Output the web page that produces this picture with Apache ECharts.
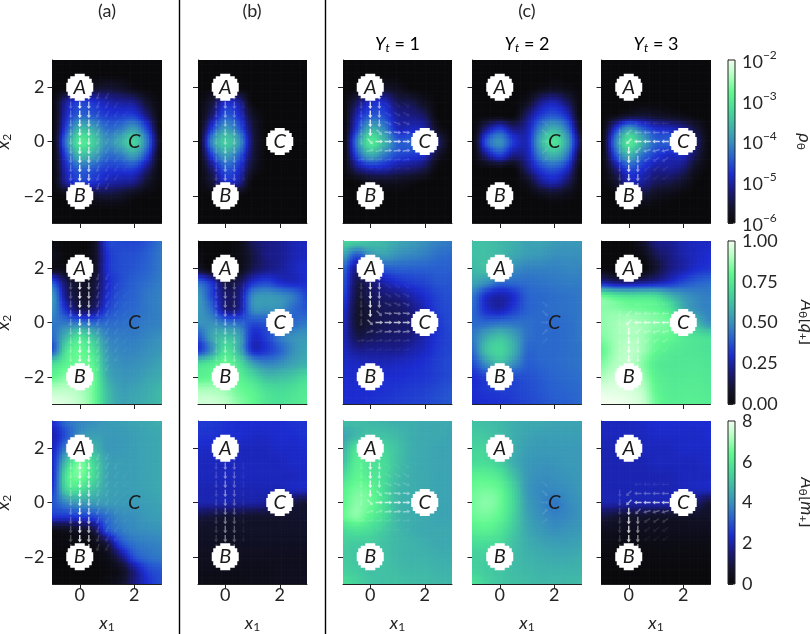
<!DOCTYPE html>
<html><head><meta charset="utf-8">
<style>html,body{margin:0;padding:0;background:#fff}#c{width:810px;height:634px}</style>
<script src="https://cdn.jsdelivr.net/npm/echarts@6/dist/echarts.min.js"></script>
</head><body><div id="c"></div>
<script>
const nodeX=[-1,-.5,0,.5,1,1.5,2,2.5,3];
const nodeY=[3,2.5,2,1.5,1,.5,0,-.5,-1,-1.5,-2,-2.5,-3];
// log10 rho
const rhoA=[[-6,-6,-6,-6,-6,-6,-6,-6,-6],[-6,-6,-6,-6,-6,-6,-6,-6,-6],[-6,-6,-5.8,-5.7,-5.6,-5.7,-5.9,-6,-6],[-6,-5.1,-4.7,-4.8,-5,-5.1,-5.2,-5.7,-6],[-6,-4.9,-4.4,-4.5,-4.7,-4.7,-4.7,-5.3,-6],[-6,-4.6,-3.6,-3.8,-4.3,-4.2,-3.9,-4.7,-6],[-6,-4.2,-3.05,-3.35,-4,-3.7,-3.3,-4.3,-5.9],[-6,-4.6,-3.6,-3.8,-4.3,-4.2,-3.9,-4.7,-6],[-6,-4.9,-4.4,-4.5,-4.7,-4.7,-4.7,-5.3,-6],[-6,-5.1,-4.7,-4.8,-5,-5.1,-5.2,-5.7,-6],[-6,-6,-5.8,-5.7,-5.6,-5.7,-5.9,-6,-6],[-6,-6,-6,-6,-6,-6,-6,-6,-6],[-6,-6,-6,-6,-6,-6,-6,-6,-6]];
const rhoB=[[-6,-6,-6,-6,-6,-6,-6,-6,-6],[-6,-6,-6,-6,-6,-6,-6,-6,-6],[-6,-6,-6,-6,-6,-6,-6,-6,-6],[-6,-5.6,-4.9,-5.1,-6,-6,-6,-6,-6],[-6,-5.3,-4.5,-4.8,-5.7,-6,-6,-6,-6],[-6,-4.7,-3.9,-4.4,-5.5,-6,-6,-6,-6],[-6,-4.1,-3.4,-3.9,-5.4,-6,-6,-6,-6],[-6,-4.7,-3.9,-4.4,-5.5,-6,-6,-6,-6],[-6,-5.3,-4.5,-4.8,-5.7,-6,-6,-6,-6],[-6,-5.6,-4.9,-5.1,-6,-6,-6,-6,-6],[-6,-6,-6,-6,-6,-6,-6,-6,-6],[-6,-6,-6,-6,-6,-6,-6,-6,-6],[-6,-6,-6,-6,-6,-6,-6,-6,-6]];
const rhoC1=[[-6,-6,-6,-6,-6,-6,-6,-6,-6],[-6,-6,-6,-6,-6,-6,-6,-6,-6],[-6,-6,-5.8,-5.7,-5.8,-6,-6,-6,-6],[-6,-5.4,-4.9,-4.9,-5.4,-5.5,-5.8,-6,-6],[-6,-5,-4.5,-4.6,-5.1,-5.2,-5.4,-6,-6],[-6,-4.7,-3.7,-4.1,-4.9,-4.9,-5,-5.8,-6],[-6,-4.2,-3.05,-3.6,-4.4,-4.4,-4.5,-5.3,-6],[-6,-4.6,-3.8,-4.2,-4.6,-4.7,-4.9,-5.7,-6],[-6,-5.3,-5,-5,-5.2,-5.3,-5.5,-6,-6],[-6,-6,-5.8,-5.8,-5.8,-5.9,-6,-6,-6],[-6,-6,-6,-6,-6,-6,-6,-6,-6],[-6,-6,-6,-6,-6,-6,-6,-6,-6],[-6,-6,-6,-6,-6,-6,-6,-6,-6]];
const rhoC2=[[-6,-6,-6,-6,-6,-6,-6,-6,-6],[-6,-6,-6,-6,-6,-6,-6,-6,-6],[-6,-6,-6,-6,-6,-5.9,-5.8,-5.9,-6],[-6,-6,-6,-6,-5.8,-5.2,-5,-5.4,-6],[-6,-6,-6,-6,-5.3,-4.7,-4.5,-4.9,-6],[-6,-5.2,-4.7,-5.2,-5,-4.1,-3.7,-4.3,-5.8],[-6,-4.5,-4,-4.7,-4.9,-3.7,-3.1,-3.9,-5.5],[-6,-5.2,-4.7,-5.2,-5,-4.1,-3.7,-4.3,-5.8],[-6,-6,-6,-6,-5.3,-4.7,-4.5,-4.9,-6],[-6,-6,-6,-6,-5.8,-5.2,-5,-5.4,-6],[-6,-6,-6,-6,-6,-5.9,-5.8,-5.9,-6],[-6,-6,-6,-6,-6,-6,-6,-6,-6],[-6,-6,-6,-6,-6,-6,-6,-6,-6]];
const rhoC3=[[-6,-6,-6,-6,-6,-6,-6,-6,-6],[-6,-6,-6,-6,-6,-6,-6,-6,-6],[-6,-6,-6,-6,-6,-6,-6,-6,-6],[-6,-6,-6,-6,-6,-6,-6,-6,-6],[-6,-5.9,-5.7,-5.6,-5.7,-5.8,-5.9,-6,-6],[-6,-4.8,-3.9,-4.4,-4.8,-4.9,-5.1,-5.6,-6],[-6,-4.2,-3.05,-3.7,-4.4,-4.4,-4.5,-5.3,-6],[-6,-4.6,-3.7,-4.3,-4.7,-4.9,-4.9,-5.5,-6],[-6,-5.3,-4.6,-4.8,-5.1,-5.1,-5.3,-5.8,-6],[-6,-5.7,-5,-5.1,-5.4,-5.5,-5.7,-6,-6],[-6,-6,-5.6,-5.6,-5.8,-5.9,-6,-6,-6],[-6,-6,-6,-6,-6,-6,-6,-6,-6],[-6,-6,-6,-6,-6,-6,-6,-6,-6]];
// A[q+]
const qA=[[.02,0,0,.05,.33,.35,.35,.38,.44],[.05,0,0,.05,.3,.36,.37,.4,.45],[.05,.03,0,.05,.3,.36,.38,.41,.45],[.38,.15,.08,.1,.28,.36,.4,.43,.46],[.52,.2,.1,.12,.3,.38,.41,.45,.47],[.5,.3,.15,.18,.34,.4,.42,.45,.47],[.45,.45,.45,.42,.42,.43,.44,.46,.47],[.42,.6,.72,.62,.48,.46,.46,.48,.5],[.38,.72,.8,.72,.52,.48,.48,.5,.52],[.7,.78,.82,.78,.55,.5,.5,.52,.55],[.8,.85,.9,.82,.58,.52,.52,.55,.57],[.92,.92,.9,.82,.62,.54,.55,.57,.6],[.98,.96,.92,.82,.63,.55,.56,.58,.6]];
const qB=[[0,0,0,.03,.15,.2,.22,.26,.28],[.02,0,0,.03,.12,.2,.22,.26,.28],[.08,0,0,.03,.14,.2,.23,.27,.3],[.42,.3,.12,.15,.3,.35,.3,.28,.3],[.52,.35,.18,.2,.48,.52,.5,.45,.35],[.52,.42,.2,.22,.48,.5,.5,.42,.38],[.5,.5,.45,.42,.36,.38,.4,.42,.45],[.38,.55,.62,.55,.3,.34,.45,.5,.52],[.32,.5,.72,.58,.3,.32,.4,.5,.55],[.7,.75,.8,.72,.55,.48,.5,.55,.58],[.78,.8,.85,.78,.7,.62,.62,.65,.7],[.9,.9,.88,.82,.78,.72,.7,.72,.75],[.95,.95,.92,.85,.8,.74,.72,.74,.76]];
const qC1=[[.68,.66,.62,.6,.56,.53,.5,.47,.45],[.55,.38,.5,.54,.5,.48,.46,.43,.42],[.42,.2,.3,.38,.4,.4,.4,.4,.4],[.38,.14,.18,.25,.3,.33,.35,.38,.38],[.35,.12,.15,.18,.2,.25,.3,.35,.37],[.3,.1,.12,.15,.16,.2,.27,.34,.36],[.28,.1,.12,.15,.16,.18,.25,.32,.36],[.27,.14,.15,.17,.18,.2,.26,.32,.35],[.28,.22,.22,.22,.22,.25,.28,.33,.35],[.29,.28,.27,.27,.28,.29,.31,.34,.36],[.3,.29,.29,.3,.3,.31,.32,.34,.36],[.3,.3,.3,.31,.32,.33,.34,.36,.38],[.3,.3,.31,.32,.33,.34,.35,.37,.38]];
const qC2=[[.62,.62,.6,.58,.55,.55,.53,.52,.52],[.62,.62,.6,.56,.53,.52,.5,.5,.5],[.6,.62,.58,.5,.47,.47,.47,.48,.48],[.55,.5,.42,.42,.43,.44,.45,.46,.46],[.45,.3,.25,.3,.4,.42,.43,.44,.45],[.42,.3,.26,.33,.4,.42,.43,.44,.45],[.42,.42,.44,.44,.43,.42,.42,.43,.45],[.45,.56,.62,.55,.44,.42,.42,.43,.45],[.42,.62,.68,.58,.42,.42,.42,.43,.44],[.36,.5,.6,.5,.4,.41,.42,.43,.44],[.3,.34,.36,.36,.37,.39,.41,.42,.43],[.3,.32,.33,.34,.36,.38,.4,.41,.42],[.29,.3,.31,.33,.35,.37,.39,.4,.42]];
const qC3=[[0,0,0,.08,.2,.22,.26,.28,.28],[0,0,0,.03,.14,.2,.25,.28,.3],[.02,0,0,0,.1,.2,.25,.3,.32],[.25,.2,.2,.22,.25,.3,.36,.4,.42],[.8,.75,.72,.72,.7,.6,.52,.48,.46],[.85,.85,.83,.82,.8,.74,.58,.5,.47],[.86,.88,.9,.88,.85,.82,.72,.6,.5],[.84,.88,.9,.88,.82,.8,.75,.72,.7],[.8,.88,.92,.88,.8,.76,.74,.73,.72],[.84,.9,.92,.85,.76,.74,.74,.74,.73],[.9,.94,.94,.88,.78,.75,.75,.75,.74],[.97,.97,.96,.92,.8,.76,.76,.76,.75],[1,1,.98,.94,.82,.77,.77,.77,.76]];
// A[m+]
const mA=[[2.4,3.4,3.8,4,4.2,4.3,4.4,4.5,4.6],[2,3,4,4.3,4.2,4.2,4.3,4.4,4.5],[2.2,3.8,5,4.8,4.2,4.2,4.3,4.4,4.5],[2.3,5,6.6,5.5,4.4,4.3,4.3,4.4,4.5],[2.3,5.8,6.6,5.6,4.4,4.3,4.3,4.4,4.5],[2.6,5.4,5.7,5,4.4,4.3,4.3,4.4,4.5],[3,3.8,4.2,4.2,4.2,4.2,4.2,4.3,4.4],[2.5,2.5,2.6,2.8,3.4,3.9,4,4.2,4.3],[.3,.4,.6,1,2.9,3.6,3.9,4,4.1],[.1,.1,.1,.2,1,2.8,3.5,3.7,3.8],[0,0,0,.1,.3,1.4,2.9,3.4,3.6],[0,0,0,0,.1,.4,1.6,2.7,3],[0,0,0,0,.2,.6,1.6,2.4,2.9]];
const mB=[[2.6,2.6,2.5,2.4,2.4,2.4,2.4,2.5,2.5],[2.5,2.5,2.4,2.4,2.3,2.3,2.4,2.4,2.5],[2.3,2.3,2.3,2.2,2.2,2.2,2.3,2.3,2.4],[2.2,2.2,2.2,2.2,2.2,2.2,2.2,2.3,2.3],[2.2,2.2,2.2,2.2,2.2,2.2,2.2,2.2,2.3],[2.1,2.1,2.1,2.1,2.1,2.1,2.1,2.2,2.2],[2,2,2,1.9,1.9,1.8,1.6,1,.8],[1,.9,.8,.8,.7,.7,.7,.7,.7],[.6,.6,.6,.6,.6,.6,.6,.6,.6],[.5,.5,.5,.5,.5,.5,.5,.5,.5],[.4,.4,.4,.4,.4,.4,.4,.4,.4],[.3,.3,.3,.3,.3,.3,.4,.4,.4],[.2,.2,.2,.2,.3,.3,.4,.4,.5]];
const mC1=[[4.9,4.9,4.8,4.7,4.6,4.6,4.5,4.5,4.5],[4.4,4.8,5,5,4.8,4.6,4.5,4.5,4.4],[4.7,5.8,5.4,5.4,5,4.6,4.5,4.4,4.4],[5,6.1,5.8,5.6,5,4.6,4.5,4.4,4.4],[5.6,6.3,6,5.6,4.9,4.6,4.5,4.4,4.4],[6.2,6.6,6.4,5.6,4.8,4.6,4.5,4.4,4.4],[6.3,6.8,6.5,5.7,4.8,4.6,4.4,4.4,4.4],[6.4,6.8,6.2,5.6,4.8,4.6,4.5,4.4,4.4],[5.6,5.8,5.6,5.2,4.8,4.6,4.5,4.5,4.5],[5.3,5.2,5.2,5,4.8,4.7,4.6,4.5,4.5],[5.2,5.1,5,5,4.8,4.7,4.7,4.6,4.6],[5.3,5.2,5,5,4.9,4.8,4.8,4.7,4.7],[5.7,5.4,5.1,5,5,4.9,4.9,4.8,4.8]];
const mC2=[[5,4.9,4.8,4.6,4.5,4.5,4.4,4.4,4.4],[5.2,5.1,4.9,4.6,4.4,4.3,4.3,4.3,4.3],[5.4,5.4,5.1,4.6,4.3,4.2,4.2,4.2,4.2],[5.6,5.6,5.3,4.6,4.2,4.1,4.1,4.2,4.2],[6.2,6.2,5.9,5,4.2,4,4,4.1,4.2],[6.5,6.6,6.4,5.4,4.2,3.9,3.9,4,4.2],[6.6,6.8,6.5,5.5,4.3,3.9,3.6,3.9,4.1],[6.5,6.6,6.3,5.4,4.4,4,3.8,3.9,4.1],[6.1,6.2,5.9,5.2,4.5,4.2,4,4.1,4.2],[5.6,5.6,5.5,5,4.6,4.4,4.3,4.3,4.4],[5.3,5.3,5.2,4.9,4.7,4.6,4.5,4.5,4.6],[5.4,5.2,5.1,4.9,4.8,4.7,4.7,4.7,4.7],[5.8,5.4,5.1,5,4.9,4.8,4.8,4.8,4.9]];
const mC3=[[2.2,2.2,2.2,2.3,2.4,2.4,2.4,2.4,2.4],[2.2,2.2,2.2,2.2,2.3,2.3,2.3,2.3,2.4],[2.1,2.1,2.1,2.2,2.2,2.2,2.3,2.3,2.3],[2.1,2.1,2.1,2.1,2.2,2.2,2.2,2.2,2.3],[2.1,2.1,2.1,2.1,2.1,2.1,2.2,2.2,2.2],[2.1,2.1,2.1,2.1,2.1,2.1,2.2,2.2,2.2],[2,2,2,2,2,2,1.9,1.4,.8],[1,.8,.7,.7,.6,.6,.6,.6,.6],[.4,.4,.4,.4,.4,.4,.4,.4,.4],[.2,.2,.2,.2,.2,.2,.2,.2,.2],[.1,.1,.1,.1,.1,.1,.1,.1,.1],[.05,.05,.05,.05,.05,.05,.05,.05,.05],[0,0,0,0,0,0,0,0,0]];
// Quiver runs on the third-unit lattice: x from, x to, x2 from, x2 to (in thirds), dx, dy, alpha
const arrowsA=[[0,0,-5,5,0,-1,.9],[1,1,-5,5,0,-1,.7],[-1,-1,-5,5,0,-1,.25],[2,2,-5,5,-.3,-1,.16],[3,3,-5,5,-.5,-1,.1],[4,4,-4,4,-.6,-1,.07],[5,5,-3,3,-.8,-1,.04]];
const arrowsB=[[0,0,-5,5,0,-1,.45],[1,1,-5,5,0,-1,.3],[-1,-1,-5,5,0,-1,.16],[2,2,-4,4,0,-1,.06]];
const arrowsC1=[[0,0,1,5,0,-1,.85],[1,1,2,5,0,-1,.55],[-1,-1,0,5,0,-1,.16],[0,0,0,0,.7,-.7,.5],[1,1,1,1,.7,-.7,.4],[1,4,0,0,1,0,.7],[2,4,1,1,1,-.1,.42],[2,4,-1,-1,1,.1,.42],[0,1,-1,-1,1,.3,.25],[2,4,2,2,1,-.4,.16],[2,4,3,3,1,-.6,.1],[2,4,4,4,1,-.7,.05],[-1,4,-2,-2,1,.2,.1],[0,4,-3,-3,1,.2,.04]];
const arrowsC2=[[5,5,1,1,.7,-.7,.12],[5,5,-1,-1,.7,.7,.12],[5,5,0,0,1,0,.1],[5,5,2,2,.7,-.7,.07],[5,5,-2,-2,.7,.7,.07]];
const arrowsC3=[[0,0,-5,-1,0,-1,.8],[1,1,-5,-2,0,-1,.5],[-1,-1,-5,1,0,-1,.16],[0,0,0,0,-.7,-.7,.6],[0,0,1,1,-.7,-.7,.25],[1,1,-1,-1,-.7,-.7,.4],[1,4,0,0,-1,0,.7],[1,4,1,1,-1,0,.28],[2,4,-1,-1,-1,-.3,.32],[2,4,-2,-2,-1,-.7,.16],[2,4,-3,-3,-1,-.8,.08],[2,4,-4,-4,-1,-.8,.05],[1,4,2,2,-1,0,.08]];
const labelNames=['A','B','C'];
const labelX=[0,0,2];
const labelY=[2,-2,0];
const circledC=[false,true,true,false,true]; // whether C is observed in each column
const titles=['(a)','(b)','(c)'];
const subTitles=['1','2','3'];
const xTicks=[0,2];
const yTicks=[-2,0,2];
const fieldGrid=[[rhoA,rhoB,rhoC1,rhoC2,rhoC3],[qA,qB,qC1,qC2,qC3],[mA,mB,mC1,mC2,mC3]];
const arrowSets=[arrowsA,arrowsB,arrowsC1,arrowsC2,arrowsC3];
const rangeMin=[-6,0,0], rangeMax=[-2,1,8], rangeStep=[1,.25,2];

// --- layout and style ---
const FONT='Lato';
const TXT='#262626';
const TICK=18;
const colLeft=[52.5,198,343,472.5,601.5], colW=109;
const rowTop=[60,241,421], rowH=163;
const cbLeft=728, cbW=7;
const cmap=[[0,[10,10,12]],[.1,[20,20,50]],[.2,[26,26,128]],[.3,[28,44,208]],[.4,[40,96,208]],[.5,[56,144,188]],[.6,[64,184,168]],[.7,[72,220,152]],[.8,[96,248,144]],[.9,[176,255,192]],[1,[244,255,240]]];
function colorOf(t){t=Math.max(0,Math.min(1,t));for(let i=1;i<cmap.length;i++){if(t<=cmap[i][0]){const a=cmap[i-1],b=cmap[i],f=(t-a[0])/(b[0]-a[0]);return 'rgb('+[0,1,2].map(k=>Math.round(a[1][k]+(b[1][k]-a[1][k])*f)).join(',')+')';}}return '#fff';}
// display shading between samples, as imshow's bicubic interpolation does
function cub(t){const a=[-.5*t*t*t+t*t-.5*t,1.5*t*t*t-2.5*t*t+1,-1.5*t*t*t+2*t*t+.5*t,.5*t*t*t-.5*t*t];return a;}
function shade(g,x,y){let u=(x-nodeX[0])/.5,v=(nodeY[0]-y)/.5;u=Math.max(0,Math.min(8,u));v=Math.max(0,Math.min(12,v));const i=Math.min(7,Math.floor(u)),j=Math.min(11,Math.floor(v));const wu=cub(u-i),wv=cub(v-j);let s=0;for(let b=0;b<4;b++){const jj=Math.max(0,Math.min(12,j-1+b));for(let a=0;a<4;a++){const ii=Math.max(0,Math.min(8,i-1+a));s+=g[jj][ii]*wu[a]*wv[b];}}return s;}
const SUB=5;
const grids=[],xAxes=[],yAxes=[],series=[];
const rich={i:{fontFamily:FONT,fontStyle:'italic',fontSize:18,color:TXT,lineHeight:20,verticalAlign:'middle'},s:{fontFamily:FONT,fontSize:12,color:TXT,lineHeight:14,verticalAlign:'bottom'}};
fieldGrid.forEach((rowG,r)=>{rowG.forEach((g,c)=>{
  const p=grids.length;
  grids.push({left:colLeft[c],top:rowTop[r],width:colW,height:rowH,outerBoundsMode:'none',containLabel:false});
  xAxes.push({gridIndex:p,type:'value',min:-1,max:3,splitLine:{show:false},
    axisLine:{show:true,onZero:false,lineStyle:{color:'#222',width:1}},
    axisTick:{show:true,length:5,customValues:xTicks,lineStyle:{color:'#222'}},
    axisLabel:{show:r===2,customValues:xTicks,color:TXT,fontFamily:FONT,fontSize:TICK,margin:2},
    name:r===2?'{i|x}{s|1}':'',nameLocation:'middle',nameGap:29,nameTextStyle:{rich}});
  yAxes.push({gridIndex:p,type:'value',min:-3,max:3,splitLine:{show:false},
    axisLine:{show:true,onZero:false,lineStyle:{color:'#222',width:1}},
    axisTick:{show:true,length:5,customValues:yTicks,lineStyle:{color:'#222'}},
    axisLabel:{show:c===0,customValues:yTicks,color:TXT,fontFamily:FONT,fontSize:TICK,margin:8,formatter:v=>String(v).replace('-','\u2212')},
    name:c===0?'{i|x}{s|2}':'',nameLocation:'middle',nameGap:39,nameTextStyle:{rich}});
  const nodes=[];nodeY.forEach((y,j)=>nodeX.forEach((x,i)=>nodes.push([x,y,g[j][i]])));
  const lo=rangeMin[r],hi=rangeMax[r];
  series.push({type:'custom',coordinateSystem:'cartesian2d',xAxisIndex:p,yAxisIndex:p,clip:true,silent:true,z:2,data:nodes,encode:{x:0,y:1},
    renderItem:(params,api)=>{
      const x0=api.value(0),y0=api.value(1),h=.5/SUB,kids=[];
      for(let a=0;a<SUB;a++)for(let b=0;b<SUB;b++){
        const x=x0-.25+(a+.5)*h,y=y0-.25+(b+.5)*h;
        const P=api.coord([x-h/2,y+h/2]),Q=api.coord([x+h/2,y-h/2]);
        kids.push({type:'rect',shape:{x:P[0],y:P[1],width:Q[0]-P[0]+.7,height:Q[1]-P[1]+.7},style:{fill:colorOf((shade(g,x,y)-lo)/(hi-lo))},silent:true});
      }
      return {type:'group',children:kids};
    }});
  const arrows=[];arrowSets[c].forEach(q=>{for(let ix=q[0];ix<=q[1];ix++)for(let iy=q[2];iy<=q[3];iy++)arrows.push([ix/3,iy/3,q[4],q[5],q[6]]);});
  series.push({type:'custom',coordinateSystem:'cartesian2d',xAxisIndex:p,yAxisIndex:p,clip:true,silent:true,z:3,data:arrows,encode:{x:0,y:1},
    renderItem:(params,api)=>{
      const C=api.coord([api.value(0),api.value(1)]);let dx=api.value(2),dy=-api.value(3);const n=Math.hypot(dx,dy);dx/=n;dy/=n;
      const L=3.8,w=.7,hw=2.1,hl=2.9,nx=-dy,ny=dx;
      const pt=(a,b)=>[C[0]+dx*a+nx*b,C[1]+dy*a+ny*b];
      return {type:'polygon',shape:{points:[pt(-L,-w),pt(L-hl,-w),pt(L-hl,-hw),pt(L,0),pt(L-hl,hw),pt(L-hl,w),pt(-L,w)]},style:{fill:'#fff',opacity:api.value(4)},silent:true};
    }});
  const marks=labelNames.map((n,i)=>[labelX[i],labelY[i],n]);
  const R=[[4.5,13.5],[8.5,12],[11,9.5],[13.5,5]];
  series.push({type:'custom',coordinateSystem:'cartesian2d',xAxisIndex:p,yAxisIndex:p,clip:false,silent:true,z:4,data:marks,encode:{x:0,y:1},dimensions:['x','y',{name:'n',type:'ordinal'}],
    renderItem:(params,api)=>{
      const C=api.coord([api.value(0),api.value(1)]),name=labelNames[params.dataIndex],kids=[];
      if(name!=='C'||circledC[c]){
        const pts=[];
        R.forEach((s,i)=>{const py=i?R[i-1][0]:0;pts.push([s[1],py],[s[1],s[0]]);});
        const right=pts.slice(),all=[];
        right.forEach(q=>all.push([C[0]+q[0],C[1]+q[1]]));
        right.slice().reverse().forEach(q=>all.push([C[0]-q[0],C[1]+q[1]]));
        right.forEach(q=>all.push([C[0]-q[0],C[1]-q[1]]));
        right.slice().reverse().forEach(q=>all.push([C[0]+q[0],C[1]-q[1]]));
        kids.push({type:'polygon',shape:{points:all},style:{fill:'#fff'},silent:true});
      }
      kids.push({type:'text',style:{text:name,x:C[0],y:C[1],align:'center',verticalAlign:'middle',textAlign:'center',textVerticalAlign:'middle',font:'italic 20px '+FONT,fill:'#1a1a1a'},silent:true});
      return {type:'group',children:kids};
    }});
});});
// colour bars
const cbNames=['{i|\u03c1}{s|\u03b8}','{i|A}{s|\u03b8}{n|[}{i|q}{s|+}{n|]}','{i|A}{s|\u03b8}{n|[}{i|m}{s|+}{n|]}'];
const cbGap=[60,62,62];
rowTop.forEach((top,r)=>{
  const p=grids.length,lo=rangeMin[r],hi=rangeMax[r];
  grids.push({left:cbLeft,top:top,width:cbW,height:rowH,outerBoundsMode:'none',containLabel:false});
  xAxes.push({gridIndex:p,type:'value',min:0,max:1,show:false});
  yAxes.push({gridIndex:p,type:'value',position:'right',min:lo,max:hi,interval:rangeStep[r],splitLine:{show:false},
    axisLine:{show:true,lineStyle:{color:'#222',width:1}},axisTick:{show:true,length:5,lineStyle:{color:'#222'}},
    axisLabel:{color:TXT,fontFamily:FONT,fontSize:TICK,margin:7,
      formatter:v=>r===0?'{a|10}{b|\u2212'+Math.abs(v)+'}':(r===1?v.toFixed(2):String(v)),
      rich:{a:{fontFamily:FONT,fontSize:TICK,color:TXT,lineHeight:18,verticalAlign:'bottom'},b:{fontFamily:FONT,fontSize:12,color:TXT,lineHeight:22,verticalAlign:'top'}}},
    name:cbNames[r],nameLocation:'middle',nameRotate:-90,nameGap:cbGap[r],
    nameTextStyle:{rich:Object.assign({},rich,{n:{fontFamily:FONT,fontSize:18,color:TXT,lineHeight:20,verticalAlign:'middle'}})}});
  series.push({type:'custom',coordinateSystem:'cartesian2d',xAxisIndex:p,yAxisIndex:p,silent:true,z:2,data:[[0,lo,1,hi]],encode:{x:[0,2],y:[1,3]},
    renderItem:(params,api)=>{
      const P=api.coord([0,hi]),Q=api.coord([1,lo]);
      const stops=cmap.map(s=>({offset:1-s[0],color:'rgb('+s[1].join(',')+')'})).reverse();
      return {type:'rect',shape:{x:P[0],y:P[1],width:Q[0]-P[0],height:Q[1]-P[1]},style:{fill:new echarts.graphic.LinearGradient(0,0,0,1,stops),stroke:'#222',lineWidth:1},silent:true};
    }});
});
// free text and separators
const titleRich={i:{fontFamily:FONT,fontStyle:'italic',fontSize:18,color:TXT,lineHeight:20,verticalAlign:'middle'},s:{fontFamily:FONT,fontStyle:'italic',fontSize:12,color:TXT,lineHeight:14,verticalAlign:'bottom'},n:{fontFamily:FONT,fontSize:18,color:TXT,lineHeight:20,verticalAlign:'middle'}};
const titleX=[107,252,527];
const graphics=[];
titles.forEach((t,i)=>graphics.push({type:'text',x:titleX[i],y:11,style:{text:t,font:'18px '+FONT,fill:TXT,align:'center',verticalAlign:'middle'}}));
subTitles.forEach((t,i)=>graphics.push({type:'text',x:colLeft[i+2]+colW/2,y:44,style:{text:'{i|Y}{s|t}{n| = '+t+'}',rich:titleRich,align:'center',verticalAlign:'middle'}}));
[179.5,325.5].forEach(x=>graphics.push({type:'line',shape:{x1:x,y1:0,x2:x,y2:634},style:{stroke:'#000',lineWidth:1.4}}));
const chart=echarts.init(document.getElementById('c'),null,{renderer:'canvas',width:810,height:634});
chart.setOption({animation:false,backgroundColor:'#fff',grid:grids,xAxis:xAxes,yAxis:yAxes,series:series,graphic:graphics});
</script></body></html>
